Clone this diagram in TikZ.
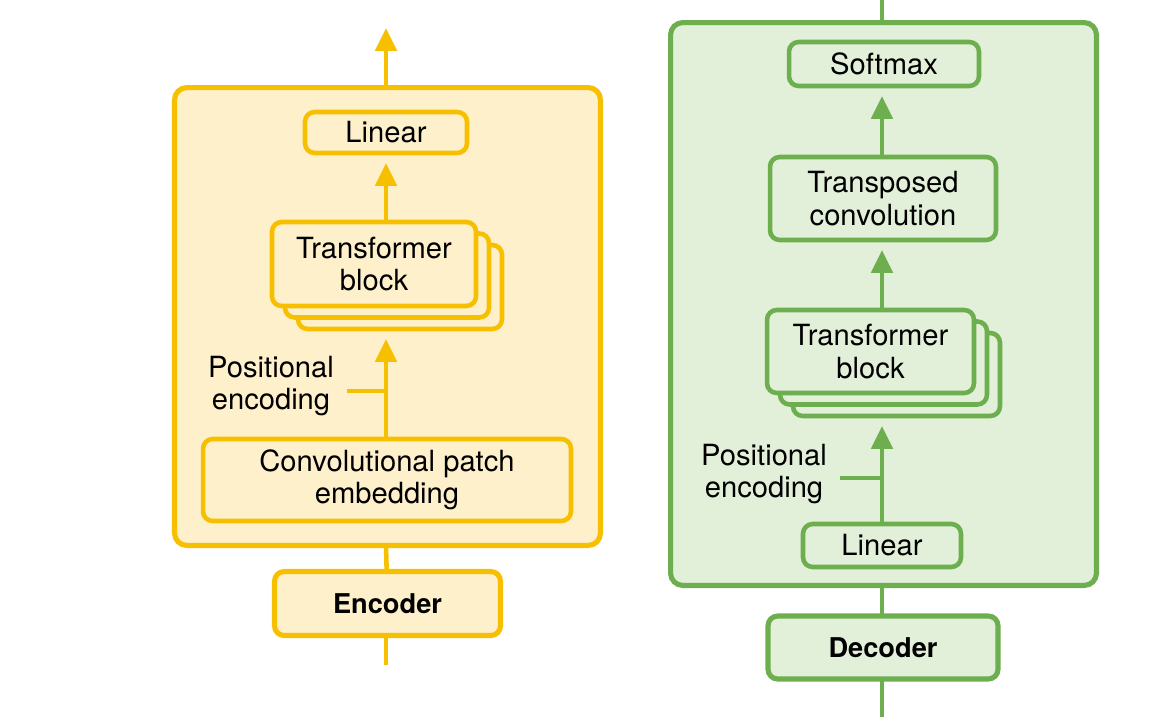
\documentclass[tikz,border=0pt]{standalone}
\usepackage{fontspec}
\setmainfont{TeX Gyre Heros}
\usepackage{tikz}
\usetikzlibrary{positioning}
\usetikzlibrary{arrows.meta,calc}
\definecolor{encline}{HTML}{F6C000}
\definecolor{encfill}{HTML}{FDF0CB}
\definecolor{decline}{HTML}{6DAF4F}
\definecolor{decfill}{HTML}{E2EFD9}

\begin{document}
\begin{tikzpicture}[x=0.02cm,y=-0.02cm,align=center,every node/.style={inner sep=0,outer sep=0,font=\fontsize{16.6}{18.5}\selectfont},
    yframe/.style={draw=encline,fill=encfill,line width=2.9pt,rounded corners=7pt},
    gframe/.style={draw=decline,fill=decfill,line width=2.9pt,rounded corners=7pt},
    ybox/.style={draw=encline,fill=encfill,line width=2.6pt,rounded corners=5.5pt},
    gbox/.style={draw=decline,fill=decfill,line width=2.6pt,rounded corners=5.5pt},
    bold/.style={line width=2.9pt,font=\fontsize{15.5}{18.5}\selectfont\bfseries},
    yline/.style={color=encline,line width=2.6pt},
    gline/.style={color=decline,line width=2.6pt},
    tip/.style={-{Triangle[width=12pt,length=13pt]},shorten >=0.2cm}]
    \useasboundingbox (0,0) rectangle (1158,717);
    % encoder
    \node (E0) [yframe,minimum width=8.52cm,minimum height=9.16cm] at (387.5,316.5) {};
    \node (E1) [ybox,minimum width=3.24cm,minimum height=0.82cm] at (386,132.5) {Linear};
    \node (E2c) [ybox,minimum width=4.08cm,minimum height=1.68cm] at (400,287) {};
    \node (E2b) [ybox,minimum width=4.08cm,minimum height=1.68cm] at (387,275.5) {};
    \node (E2) [ybox,minimum width=4.08cm,minimum height=1.68cm] at (374,264) {Transformer\\block};
    \node (E3) at (271,386) {Positional\\encoding};
    \node (E4) [ybox,minimum width=7.36cm,minimum height=1.64cm] at (387,480) {Convolutional patch\\embedding};
    \node (E5) [ybox,bold,minimum width=4.52cm,minimum height=1.28cm] at (387.5,603.5) {Encoder};
    \coordinate (Eout) at (386,28);
    \coordinate (Ein) at (386,665);
    \path[yline]
        (E0.north -| E1) edge[tip,shorten >=0pt] (Eout)
        (E1 |- E2.north) edge[tip] (E1)
        (E4.north -| E1) edge[tip] (E1 |- E2c.south)
        ($(E3.east)+(13,5)$) edge ($(E3.east -| E1)+(0,5)$)
        (E0.south -| E1) edge (E5)
        (E5.south -| E1) edge (Ein);
    % decoder
    \node (D0) [gframe,minimum width=8.52cm,minimum height=11.26cm] at (883.5,304) {};
    \node (D1) [gbox,minimum width=3.8cm,minimum height=0.88cm] at (884,64) {Softmax};
    \node (D2) [gbox,minimum width=4.52cm,minimum height=1.66cm] at (883,198.5) {Transposed\\convolution};
    \node (D3c) [gbox,minimum width=4.14cm,minimum height=1.66cm] at (896.5,374.5) {};
    \node (D3b) [gbox,minimum width=4.14cm,minimum height=1.66cm] at (883.5,363) {};
    \node (D3) [gbox,minimum width=4.14cm,minimum height=1.66cm] at (870.5,351.5) {Transformer\\block};
    \node (D4) at (764,474) {Positional\\encoding};
    \node (D5) [gbox,minimum width=3.16cm,minimum height=0.86cm] at (882,545.5) {Linear};
    \node (D6) [gbox,bold,minimum width=4.6cm,minimum height=1.26cm] at (883,647.5) {Decoder};
    \coordinate (Dout) at (882,0);
    \coordinate (Din) at (882,717);
    \path[gline]
        (D0.north -| D5) edge (Dout)
        (D2.north -| D5) edge[tip] (D5 |- D1.south)
        (D5 |- D3.north) edge[tip] (D5 |- D2.south)
        (D5) edge[tip] (D5 |- D3c.south)
        ($(D4.east)+(13,4)$) edge ($(D4.east -| D5)+(0,4)$)
        (D0.south -| D5) edge (D5 |- D6.north)
        (D6.south -| D5) edge (Din);
\end{tikzpicture}
\end{document}
